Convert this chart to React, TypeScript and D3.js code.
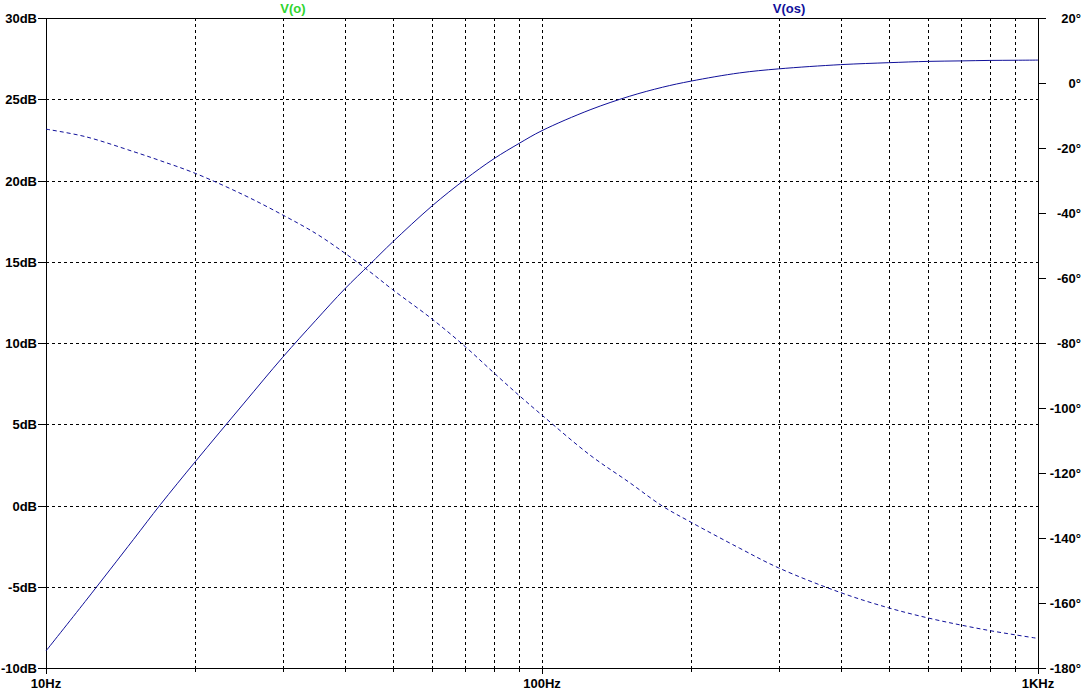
import * as d3 from "d3";

// frequency points (Hz)
const freqs = [10, 12, 15, 17, 20, 25, 30, 35, 40, 45, 50, 60, 70, 80, 90, 100, 125, 150, 175, 200, 250, 300, 400, 500, 600, 700, 800, 900, 1000];
// magnitude in dB (solid trace, left axis)
const magDb = [-8.95, -5.9, -2.1, 0.05, 2.7, 6.25, 9.12, 11.4, 13.32, 14.85, 16.22, 18.43, 20.07, 21.34, 22.29, 23.07, 24.35, 25.18, 25.74, 26.12, 26.62, 26.87, 27.13, 27.25, 27.33, 27.36, 27.39, 27.4, 27.41];
// phase in degrees (dashed trace, right axis)
const phaseDeg = [-14.2, -16.5, -21.1, -23.9, -27.8, -34.4, -40.6, -46.3, -52.3, -58.1, -63.6, -72.6, -81.1, -89.2, -96.2, -102.2, -114.5, -122.9, -130.2, -135.2, -143.1, -149.2, -156.8, -161.5, -164.6, -166.8, -168.5, -169.8, -170.9];

const dbTicks = [30, 25, 20, 15, 10, 5, 0, -5, -10];
const degTicks = [20, 0, -20, -40, -60, -80, -100, -120, -140, -160, -180];
const freqLabels = [
  { f: 10, label: "10Hz" },
  { f: 100, label: "100Hz" },
  { f: 1000, label: "1KHz" },
];

const W = 1087;
const H = 694;
const left = 46;
const right = 1038;
const top = 18;
const bottom = 668;

const traceColor = "#10109a";
const font = "'Liberation Sans', Arial, sans-serif";

export default function App() {
  const x = d3.scaleLog().domain([10, 1000]).range([left, right]);
  const yL = d3.scaleLinear().domain([-10, 30]).range([bottom, top]);
  const yR = d3.scaleLinear().domain([-180, 20]).range([bottom, top]);

  // minor + major frequency grid
  const gridFreqs: number[] = [];
  for (const dec of [10, 100]) {
    for (let k = 1; k <= 9; k++) gridFreqs.push(dec * k);
  }
  gridFreqs.push(1000);

  const px = (v: number) => Math.round(v) + 0.5;

  const magLine = d3
    .line<number>()
    .x((_, i) => x(freqs[i]))
    .y((d) => yL(d))
    .curve(d3.curveCatmullRom.alpha(0.5));
  const phaseLine = d3
    .line<number>()
    .x((_, i) => x(freqs[i]))
    .y((d) => yR(d))
    .curve(d3.curveCatmullRom.alpha(0.5));

  return (
    <svg
      width={W}
      height={H}
      style={{ position: "absolute", left: 0, top: 0, display: "block", background: "#fff" }}
      fontFamily={font}
      fontWeight="bold"
      fontSize={13}
    >
      <rect width={W} height={H} fill="#fff" />

      {/* vertical grid */}
      {gridFreqs
        .filter((f) => f > 10 && f < 1000)
        .map((f) => (
          <line
            key={"vg" + f}
            x1={px(x(f))}
            x2={px(x(f))}
            y1={top}
            y2={bottom}
            stroke="#000"
            strokeDasharray="3,3"
            shapeRendering="crispEdges"
          />
        ))}

      {/* horizontal grid */}
      {dbTicks
        .filter((d) => d > -10 && d < 30)
        .map((d) => (
          <line
            key={"hg" + d}
            x1={left}
            x2={right}
            y1={px(yL(d))}
            y2={px(yL(d))}
            stroke="#000"
            strokeDasharray="3,3"
            shapeRendering="crispEdges"
          />
        ))}

      {/* frame */}
      <rect
        x={left + 0.5}
        y={top + 0.5}
        width={right - left}
        height={bottom - top}
        fill="none"
        stroke="#000"
        shapeRendering="crispEdges"
      />

      {/* left axis */}
      {dbTicks.map((d) => (
        <g key={"ld" + d}>
          <line x1={left - 8} x2={left} y1={px(yL(d))} y2={px(yL(d))} stroke="#000" shapeRendering="crispEdges" />
          <text x={left - 9} y={yL(d) + 5} textAnchor="end" fill="#000">
            {d + "dB"}
          </text>
        </g>
      ))}

      {/* right axis */}
      {degTicks.map((d) => (
        <g key={"rd" + d}>
          <line x1={right} x2={right + 8} y1={px(yR(d))} y2={px(yR(d))} stroke="#000" shapeRendering="crispEdges" />
          <text x={1081} y={yR(d) + 5} textAnchor="end" fill="#000">
            {d + "°"}
          </text>
        </g>
      ))}

      {/* bottom ticks */}
      {gridFreqs.map((f) => {
        const major = f === 10 || f === 100 || f === 1000;
        return (
          <line
            key={"bt" + f}
            x1={px(x(f))}
            x2={px(x(f))}
            y1={bottom}
            y2={bottom + (major ? 6 : 4)}
            stroke="#000"
            shapeRendering="crispEdges"
          />
        );
      })}
      {freqLabels.map((d) => (
        <text key={d.label} x={x(d.f)} y={688} textAnchor="middle" fill="#000">
          {d.label}
        </text>
      ))}

      {/* legend */}
      <text x={293} y={13} textAnchor="middle" fill="#2fd42f">
        V(o)
      </text>
      <text x={789} y={13} textAnchor="middle" fill={traceColor}>
        V(os)
      </text>

      {/* traces */}
      <path d={magLine(magDb) ?? ""} fill="none" stroke={traceColor} strokeWidth={1} />
      <path d={phaseLine(phaseDeg) ?? ""} fill="none" stroke={traceColor} strokeWidth={1} strokeDasharray="4,3" />
    </svg>
  );
}
